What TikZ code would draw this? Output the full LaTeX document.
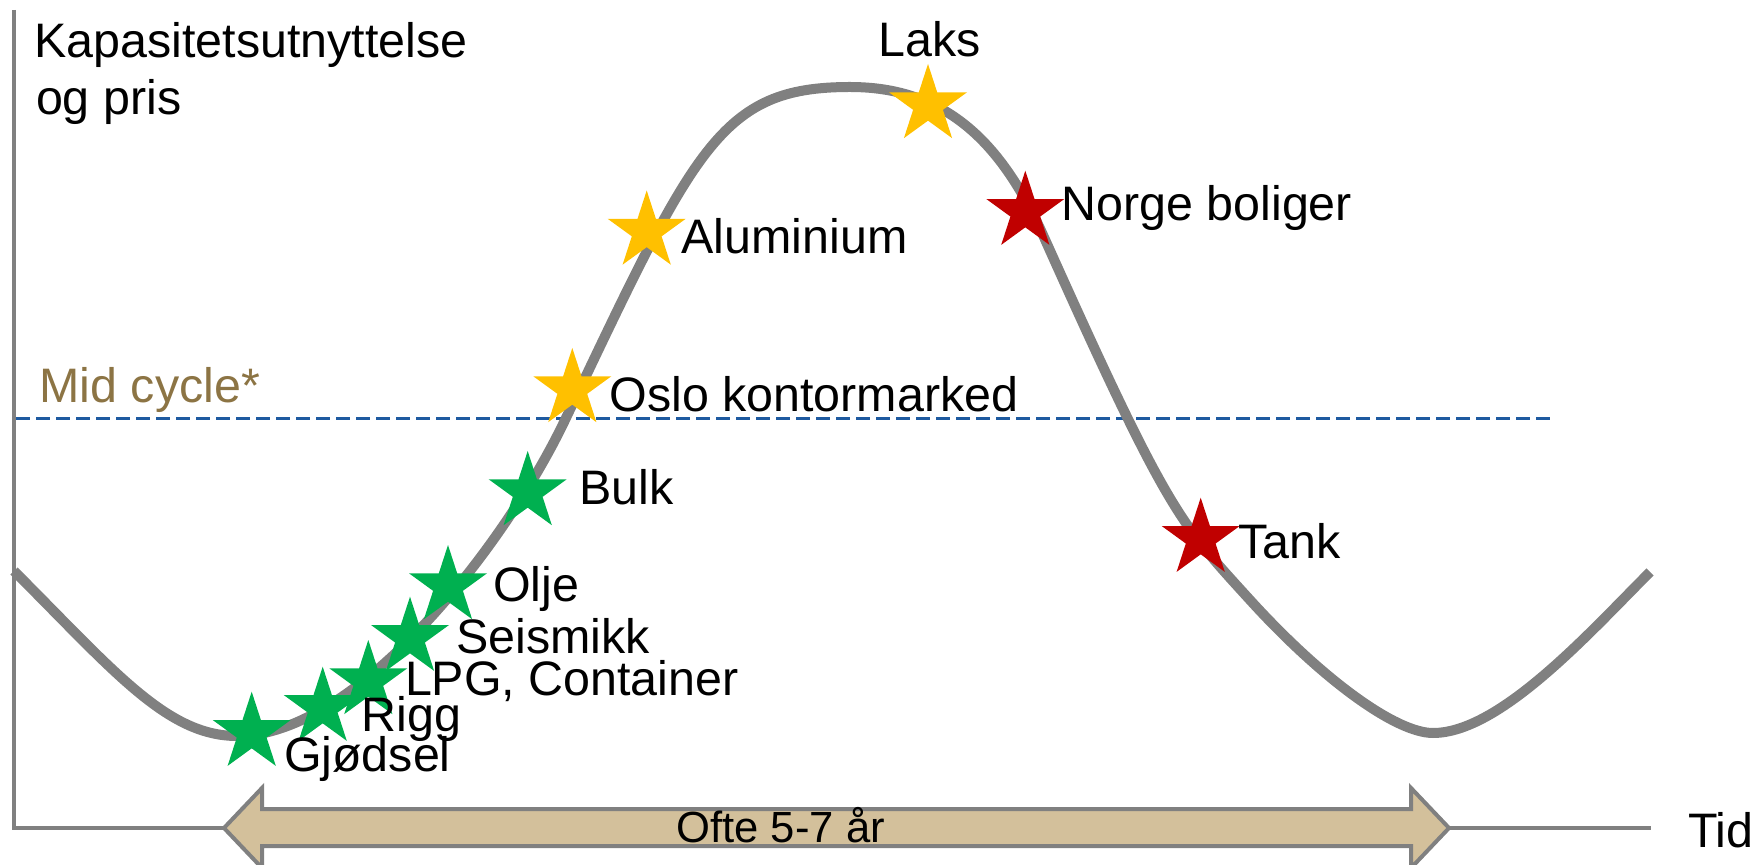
\documentclass[tikz,border=0pt]{standalone}
\usepackage{fontspec}
\setmainfont{Liberation Sans}
\usetikzlibrary{shapes.geometric}
\definecolor{axisgray}{RGB}{128,128,128}
\definecolor{stargreen}{RGB}{0,176,80}
\definecolor{stargold}{RGB}{255,192,0}
\definecolor{starred}{RGB}{192,0,0}
\definecolor{midblue}{RGB}{30,90,160}
\definecolor{midbrown}{RGB}{140,116,68}
\definecolor{arrowtan}{RGB}{211,192,155}
\begin{document}
\begin{tikzpicture}[x=0.5pt,y=-0.5pt,
  lbl/.style={anchor=base west, inner sep=0pt, outer sep=0pt, font=\fontsize{24.2}{29}\selectfont},
  smalllbl/.style={anchor=base west, inner sep=0pt, outer sep=0pt, font=\fontsize{21.8}{26}\selectfont},
  starnode/.style={star, star points=5, star point ratio=2.618, minimum size=41pt, inner sep=0pt, outer sep=0pt, draw=none, fill=#1},
  axisline/.style={draw=axisgray, line width=1.75pt},
  cycleline/.style={draw=axisgray, line width=5pt, line join=round},
  midline/.style={draw=midblue, line width=1.75pt, dash pattern=on 7pt off 3pt},
  arrowbox/.style={draw=axisgray, fill=arrowtan, line width=2pt, line join=miter}]
\useasboundingbox (0,0) rectangle (1755,865);
\clip (0,0) rectangle (1755,865);

% axes
\coordinate (ytop) at (14,10);
\coordinate (orig) at (14,828);
\coordinate (xend) at (1651,828);
\draw[axisline] (ytop) -- (orig) -- (xend);

% mid-cycle line
\coordinate (midL) at (16,418.5);
\coordinate (midR) at (1556,418.5);
\draw[midline] (midL) -- (midR);

% duration arrow
\draw[arrowbox] (224,828) -- (262,788) -- (262,809) -- (1411,809) -- (1411,788) -- (1449,828)
  -- (1411,868) -- (1411,846) -- (262,846) -- (262,868) -- cycle;
\node[smalllbl] (ofte) at (676.5,842.3) {Ofte 5-7 år};

% cycle curve
\coordinate (c0) at (14,571);
\coordinate (c1) at (237,736);
\coordinate (c2) at (565,420);
\coordinate (c3) at (850,87);
\coordinate (c4) at (1043,235);
\coordinate (c5) at (1250,600);
\coordinate (c6) at (1433,733);
\coordinate (c7) at (1650,572);
\draw[cycleline] (c0) .. controls (114,671) and (167,736) .. (c1)
  .. controls (357,736) and (505,546) .. (c2)
  .. controls (695,147) and (720,87) .. (c3)
  .. controls (940,87) and (998,135) .. (c4)
  .. controls (1168,514) and (1180,523) .. (c5)
  .. controls (1322.6,679.8) and (1396,733) .. (c6)
  .. controls (1500,733) and (1590,632) .. (c7);

% stars
\node[starnode=stargreen] (sGj) at (251.7,732.7) {};
\node[starnode=stargreen] (sRi) at (322.7,707.7) {};
\node[starnode=stargreen] (sLP) at (368.3,681) {};
\node[starnode=stargreen] (sSe) at (410,637.7) {};
\node[starnode=stargreen] (sOl) at (448,586) {};
\node[starnode=stargreen] (sBu) at (527.7,492) {};
\node[starnode=stargold] (sOs) at (572.3,389) {};
\node[starnode=stargold] (sAl) at (646.7,231.5) {};
\node[starnode=stargold] (sLa) at (928,105) {};
\node[starnode=starred] (sNo) at (1025.3,211.7) {};
\node[starnode=starred] (sTa) at (1200.7,538.7) {};

% labels
\node[lbl] (ylab1) at (34.5,57.3) {Kapasitetsutnyttelse};
\node[lbl] (ylab2) at (36,115) {og pris};
\node[lbl, text=midbrown] (midlab) at (39.5,402.7) {Mid cycle*};
\node[lbl] (lGj) at (284,771.7) {Gjødsel};
\node[lbl] (lRi) at (361.5,731.7) {Rigg};
\node[lbl] (lLP) at (405,695) {LPG, Container};
\node[lbl] (lSe) at (456.5,653.3) {Seismikk};
\node[lbl] (lOl) at (493,601.7) {Olje};
\node[lbl] (lBu) at (579.5,505) {Bulk};
\node[lbl] (lOs) at (609.5,411.7) {Oslo kontormarked};
\node[lbl] (lAl) at (681.5,254) {Aluminium};
\node[lbl] (lLa) at (878.7,57) {Laks};
\node[lbl] (lNo) at (1061.5,220.7) {Norge boliger};
\node[lbl] (lTa) at (1238.3,558.3) {Tank};
\node[lbl] (tid) at (1688,847) {Tid};
\end{tikzpicture}
\end{document}
